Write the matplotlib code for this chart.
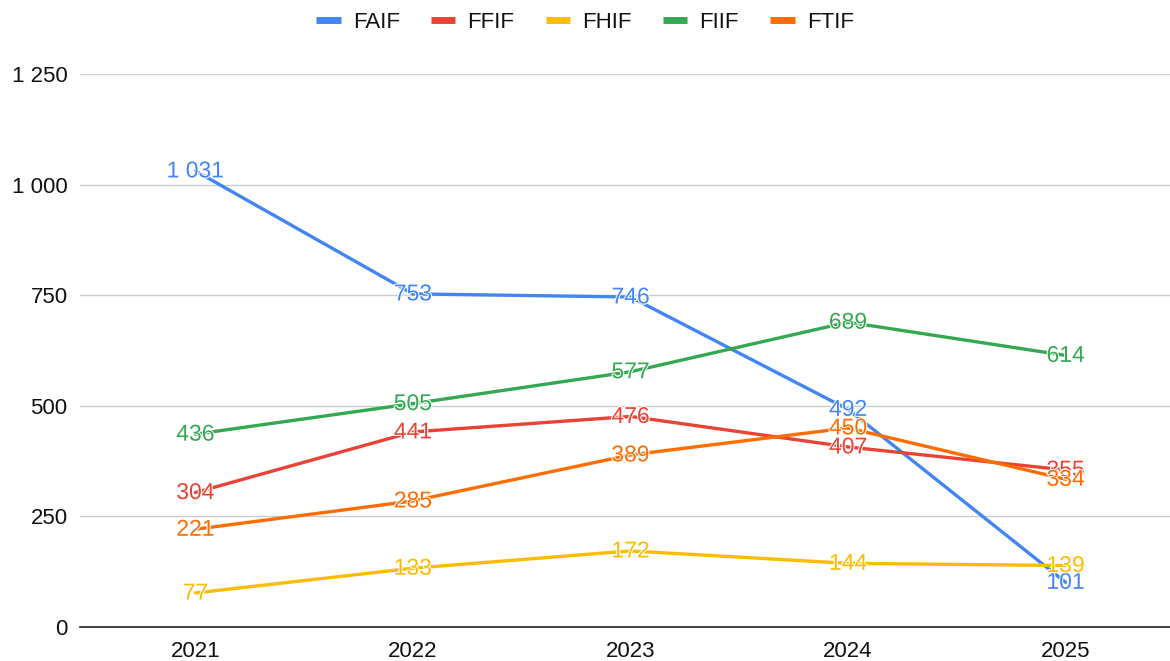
import matplotlib.pyplot as plt
import matplotlib.patheffects as pe
from matplotlib.ticker import FuncFormatter

plt.rcParams['font.family'] = ['Liberation Sans', 'DejaVu Sans']

years = ['2021', '2022', '2023', '2024', '2025']
faif = [1031, 753, 746, 492, 101]
ffif = [304, 441, 476, 407, 355]
fhif = [77, 133, 172, 144, 139]
fiif = [436, 505, 577, 689, 614]
ftif = [221, 285, 389, 450, 334]

series = [('FAIF', faif, '#4285F4'),
          ('FFIF', ffif, '#EA4335'),
          ('FHIF', fhif, '#FBBC04'),
          ('FIIF', fiif, '#34A853'),
          ('FTIF', ftif, '#FF6D01')]

def fmt(v):
    return '{:,}'.format(int(v)).replace(',', ' ')

fig = plt.figure(figsize=(11.7, 6.61), dpi=100)
ax = fig.add_axes([0.0684, 0.0514, 0.9316, 0.8366])

x = list(range(len(years)))
for name, vals, c in series:
    ax.plot(x, vals, color=c, lw=2.4, label=name, solid_capstyle='round', zorder=3)
for name, vals, c in series:
    for xi, v in zip(x, vals):
        ax.text(xi, v, fmt(v), color=c, fontsize=16.5, ha='center', va='center', zorder=4,
                path_effects=[pe.withStroke(linewidth=1.5, foreground='white')])

ax.set_xlim(-0.53, 4.48)
ax.set_ylim(0, 1250)
ax.set_yticks([0, 250, 500, 750, 1000, 1250])
ax.yaxis.set_major_formatter(FuncFormatter(lambda v, p: fmt(v)))
ax.set_xticks(x)
ax.set_xticklabels(years)
ax.grid(axis='y', color='#cccccc', lw=1)
ax.set_axisbelow(True)
for s in ['top', 'right', 'left']:
    ax.spines[s].set_visible(False)
ax.spines['bottom'].set_color('#333333')
ax.spines['bottom'].set_linewidth(1.3)
ax.spines['bottom'].set_zorder(5)
ax.tick_params(axis='both', length=0, labelsize=16, colors='#111111')
ax.tick_params(axis='y', pad=9)
ax.tick_params(axis='x', pad=10)

leg = fig.legend(loc='upper center', bbox_to_anchor=(0.5, 1.012), ncol=5, frameon=False,
                 fontsize=16, handlelength=1.1, handletextpad=0.55, columnspacing=1.4)
for t in leg.get_texts():
    t.set_color('#111111')
for h in leg.get_lines():
    h.set_linewidth(5)
    h.set_solid_capstyle('butt')

fig.savefig('out.png', dpi=100)
